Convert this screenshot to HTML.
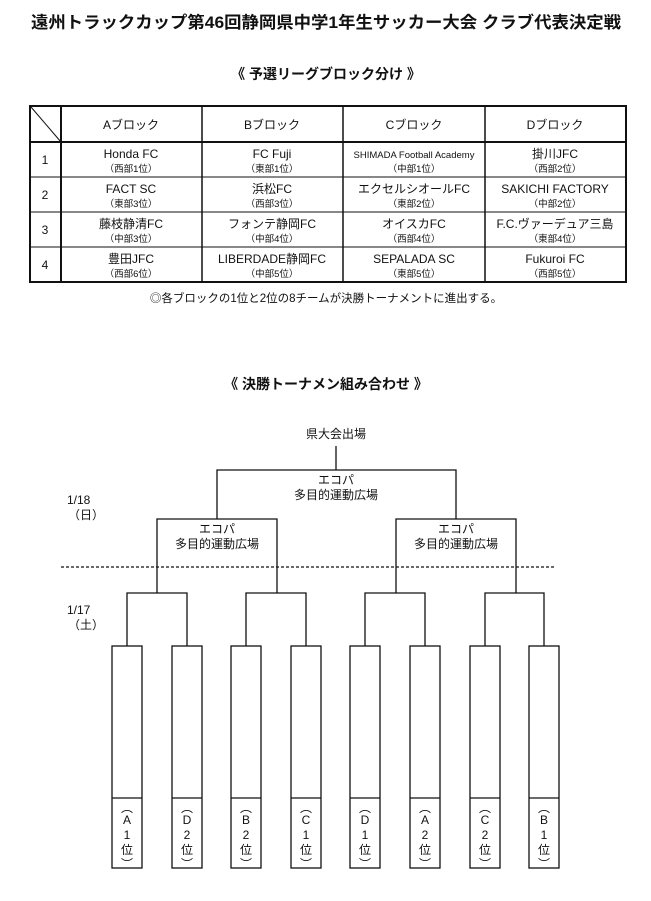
<!DOCTYPE html>
<html><head><meta charset="utf-8"><style>
html,body{margin:0;padding:0;background:#fff;}
svg{display:block;}
text{font-family:"Liberation Sans","Noto Sans CJK JP",sans-serif;fill:#111;}
.b{font-weight:bold;}
</style></head><body>
<svg width="651" height="901" viewBox="0 0 651 901" xmlns="http://www.w3.org/2000/svg">
<text x="326" y="28" text-anchor="middle" font-size="16.5" class="b" textLength="590" lengthAdjust="spacingAndGlyphs">遠州トラックカップ第46回静岡県中学1年生サッカー大会 クラブ代表決定戦</text>
<text x="326" y="79" text-anchor="middle" font-size="14" class="b">《 予選リーグブロック分け 》</text>

<g stroke="#111" fill="none">
<rect x="30" y="106" width="596" height="176" stroke-width="2"/>
<line x1="30" y1="142" x2="626" y2="142" stroke-width="2"/>
<line x1="30" y1="177" x2="626" y2="177"/>
<line x1="30" y1="212" x2="626" y2="212"/>
<line x1="30" y1="247" x2="626" y2="247"/>
<line x1="61" y1="106" x2="61" y2="282" stroke-width="2"/>
<line x1="202" y1="106" x2="202" y2="282" stroke-width="1.5"/>
<line x1="343" y1="106" x2="343" y2="282" stroke-width="1.5"/>
<line x1="485" y1="106" x2="485" y2="282" stroke-width="1.5"/>
<line x1="31" y1="107" x2="61" y2="142"/>
</g>
<g font-size="12" text-anchor="middle">
<text x="131" y="129">Aブロック</text><text x="272" y="129">Bブロック</text><text x="414" y="129">Cブロック</text><text x="555" y="129">Dブロック</text>
<text x="45" y="164">1</text><text x="45" y="199">2</text><text x="45" y="234">3</text><text x="45" y="269">4</text>
</g>
<g font-size="12" text-anchor="middle">
<text x="131" y="158">Honda FC</text><text x="272" y="158">FC Fuji</text><text x="414" y="158" font-size="9.5">SHIMADA Football Academy</text><text x="555" y="158">掛川JFC</text>
<text x="131" y="193">FACT SC</text><text x="272" y="193">浜松FC</text><text x="414" y="193">エクセルシオールFC</text><text x="555" y="193">SAKICHI FACTORY</text>
<text x="131" y="228">藤枝静清FC</text><text x="272" y="228">フォンテ静岡FC</text><text x="414" y="228">オイスカFC</text><text x="555" y="228">F.C.ヴァーデュア三島</text>
<text x="131" y="263">豊田JFC</text><text x="272" y="263">LIBERDADE静岡FC</text><text x="414" y="263">SEPALADA SC</text><text x="555" y="263">Fukuroi FC</text>
</g>
<g font-size="9.5" text-anchor="middle">
<text x="131" y="172">（西部1位）</text><text x="272" y="172">（東部1位）</text><text x="414" y="172">（中部1位）</text><text x="555" y="172">（西部2位）</text>
<text x="131" y="207">（東部3位）</text><text x="272" y="207">（西部3位）</text><text x="414" y="207">（東部2位）</text><text x="555" y="207">（中部2位）</text>
<text x="131" y="242">（中部3位）</text><text x="272" y="242">（中部4位）</text><text x="414" y="242">（西部4位）</text><text x="555" y="242">（東部4位）</text>
<text x="131" y="277">（西部6位）</text><text x="272" y="277">（中部5位）</text><text x="414" y="277">（東部5位）</text><text x="555" y="277">（西部5位）</text>
</g>
<text x="326" y="302" text-anchor="middle" font-size="11.5">◎各ブロックの1位と2位の8チームが決勝トーナメントに進出する。</text>

<text x="326" y="389" text-anchor="middle" font-size="14" class="b">《 決勝トーナメン組み合わせ 》</text>

<text x="336" y="438" text-anchor="middle" font-size="12">県大会出場</text>
<g stroke="#111" stroke-width="1.3" fill="none">
<path d="M336 446V470M217 519V470H456V519"/>
<path d="M157 593V519H277V593M396 593V519H516V593"/>
<path d="M127 646V593H187V646M246 646V593H306V646M365 646V593H425V646M485 646V593H544V646"/>
<line x1="61" y1="567" x2="554" y2="567" stroke-dasharray="3,2" stroke-width="1.2"/>
</g>
<g font-size="12" text-anchor="middle">
<text x="336" y="484">エコパ</text><text x="336" y="499">多目的運動広場</text>
<text x="217" y="533">エコパ</text><text x="217" y="548">多目的運動広場</text>
<text x="456" y="533">エコパ</text><text x="456" y="548">多目的運動広場</text>
</g>
<g font-size="12">
<text x="67" y="504">1/18</text><text x="68" y="519">（日）</text>
<text x="67" y="614">1/17</text><text x="68" y="629">（土）</text>
</g>
<g stroke="#111" stroke-width="1.3" fill="#fff">
<rect x="112" y="646" width="30" height="222"/><rect x="172" y="646" width="30" height="222"/>
<rect x="231" y="646" width="30" height="222"/><rect x="291" y="646" width="30" height="222"/>
<rect x="350" y="646" width="30" height="222"/><rect x="410" y="646" width="30" height="222"/>
<rect x="470" y="646" width="30" height="222"/><rect x="529" y="646" width="30" height="222"/>
<path d="M112 798H142M172 798H202M231 798H261M291 798H321M350 798H380M410 798H440M470 798H500M529 798H559" fill="none"/>
</g>
<g font-size="12" text-anchor="middle">
<g transform="translate(127,0)"><text y="812">︵</text><text y="824">A</text><text y="839">1</text><text y="854">位</text><text y="868">︶</text></g>
<g transform="translate(187,0)"><text y="812">︵</text><text y="824">D</text><text y="839">2</text><text y="854">位</text><text y="868">︶</text></g>
<g transform="translate(246,0)"><text y="812">︵</text><text y="824">B</text><text y="839">2</text><text y="854">位</text><text y="868">︶</text></g>
<g transform="translate(306,0)"><text y="812">︵</text><text y="824">C</text><text y="839">1</text><text y="854">位</text><text y="868">︶</text></g>
<g transform="translate(365,0)"><text y="812">︵</text><text y="824">D</text><text y="839">1</text><text y="854">位</text><text y="868">︶</text></g>
<g transform="translate(425,0)"><text y="812">︵</text><text y="824">A</text><text y="839">2</text><text y="854">位</text><text y="868">︶</text></g>
<g transform="translate(485,0)"><text y="812">︵</text><text y="824">C</text><text y="839">2</text><text y="854">位</text><text y="868">︶</text></g>
<g transform="translate(544,0)"><text y="812">︵</text><text y="824">B</text><text y="839">1</text><text y="854">位</text><text y="868">︶</text></g>
</g>
</svg>
</body></html>
